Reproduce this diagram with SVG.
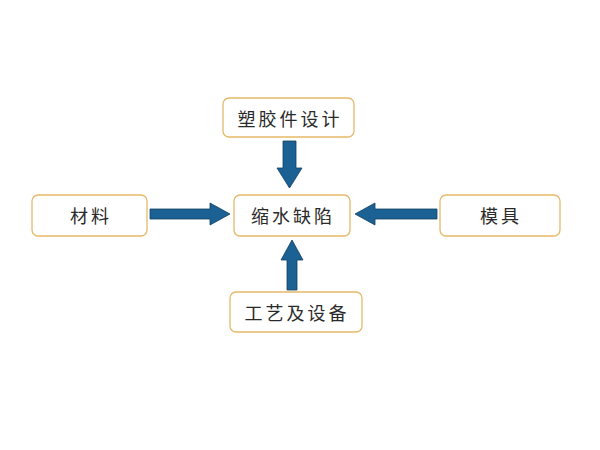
<svg xmlns="http://www.w3.org/2000/svg" width="600" height="450" viewBox="0 0 600 450">
<style>
.box{fill:#fff;stroke:#e6b968;stroke-width:1.3}
text{font-family:"Noto Sans CJK SC",sans-serif;font-size:18px;fill:#2a2a2a;text-anchor:middle;dominant-baseline:central;letter-spacing:3px}
.ar{fill:#1b6193;stroke:#0f3f63;stroke-width:0.8}
</style>
<rect width="600" height="450" fill="#fff"/>
<g id="n-design"><rect class="box" x="223" y="98" width="131" height="39" rx="6"/><text x="290" y="118">塑胶件设计</text></g>
<g id="n-defect"><rect class="box" x="234" y="195" width="116" height="41" rx="6"/><text x="293" y="215">缩水缺陷</text></g>
<g id="n-material"><rect class="box" x="32" y="195" width="115" height="41" rx="6"/><text x="91" y="215">材料</text></g>
<g id="n-mold"><rect class="box" x="440" y="195" width="120" height="41" rx="6"/><text x="501" y="215">模具</text></g>
<g id="n-process"><rect class="box" x="230" y="292" width="132" height="40" rx="6"/><text x="297" y="312">工艺及设备</text></g>
<g id="connectors">
<polygon class="ar" points="283,141 296,141 296,168 302,168 289.5,188 277,168 283,168"/>
<polygon class="ar" points="150,209 210,209 210,203 230,214 210,225 210,219 150,219"/>
<polygon class="ar" points="437,209 375,209 375,203 355,214 375,225 375,219 437,219"/>
<polygon class="ar" points="287,290 297,290 297,260 303,260 292,240 281,260 287,260"/>
</g>
</svg>
